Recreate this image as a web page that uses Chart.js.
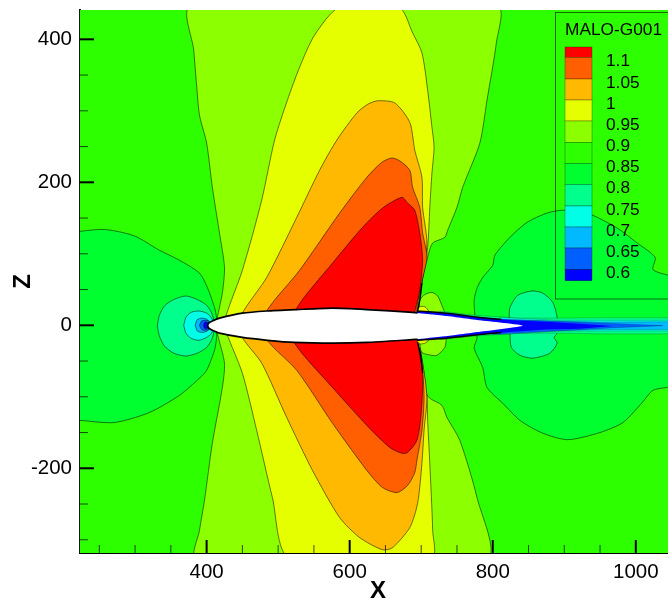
<!DOCTYPE html>
<html>
<head>
<meta charset="utf-8">
<style>
  html, body { margin: 0; padding: 0; background: #fff; }
  canvas { display: block; }
</style>
<script src="https://cdn.jsdelivr.net/npm/chart.js@4/dist/chart.umd.min.js"></script>
</head>
<body>
<canvas id="contourChart" width="668" height="605"></canvas>
<script>
// Ejes
const xTicks = [400, 600, 800, 1000];
const zTicks = [-200, 0, 200, 400];
const xMinor = [250, 300, 350, 450, 500, 550, 650, 700, 750, 850, 900, 950];
const zMinor = [-300, -250, -150, -100, -50, 50, 100, 150, 250, 300, 350];

// Leyenda
const legendTitle = 'MALO-G001';
const levels = ['1.1', '1.05', '1', '0.95', '0.9', '0.85', '0.8', '0.75', '0.7', '0.65', '0.6'];
const bandColors = ['#FF0000', '#FF5F00', '#FFB900', '#E6FF00', '#8CFF00', '#2EFF00',
                    '#00FF2E', '#00FF8C', '#00FFE6', '#00B9FF', '#005FFF', '#0000FF'];

// Isolineas, pares [X, Z]
const upper090 = [[415,0],[415,10],[422,45],[425,81],[418,129],[408,193],[400,255],[390,294],[386,336],[382,385],[377,445],
  [807,445],[805,395],[792,315],[782,255],[758,193],[750,165],[737,133],[733,123],[716,115],[709,95],[702,67],[695,25],[695,0]];
const upper095 = [[427,0],[427,13],[450,77],[477,175],[495,259],[513,315],[530,361],[551,406],[586,445],
  [669,445],[688,409],[701,381],[709,329],[715,277],[718,249],[715,213],[712,165],[709,109],[702,67],[698,35],[695,21],[695,0]];
const upper100 = [[450,0],[450,17],[484,67],[526,151],[558,217],[582,259],[610,297],[625,309],[639,314],[663,311],[684,284],
  [691,245],[701,207],[702,165],[708,115],[701,59],[695,25],[695,0]];
const upper105 = [[484,0],[484,20],[530,77],[586,157],[624,207],[645,228],[659,234],[670,230],[684,217],[688,193],[698,165],
  [702,129],[708,95],[698,49],[694,24],[694,0]];
const upper110 = [[526,0],[526,24],[576,87],[618,137],[646,164],[673,179],[681,171],[691,161],[698,129],[702,91],[698,49],[691,18],[691,0]];

const lower090 = [[415,0],[415,-11],[425,-53],[422,-87],[408,-165],[397,-245],[390,-287],[385,-325],
  [792,-325],[778,-241],[754,-161],[736,-129],[729,-112],[712,-102],[705,-91],[701,-53],[698,-25],[698,0]];
const lower095 = [[427,0],[428,-11],[450,-67],[470,-147],[492,-241],[515,-325],
  [715,-325],[716,-287],[712,-193],[709,-133],[708,-101],[702,-53],[698,-25],[698,0]];
const lower100 = [[450,0],[450,-17],[477,-53],[512,-129],[548,-203],[586,-269],[614,-297],[646,-314],[660,-311],[684,-283],
  [695,-249],[701,-193],[704,-147],[708,-101],[702,-53],[695,-24],[695,0]];
const lower105 = [[485,0],[485,-21],[526,-63],[576,-137],[624,-203],[646,-227],[666,-234],[681,-224],[691,-206],[694,-189],
  [701,-147],[704,-101],[701,-53],[694,-21],[694,0]];
const lower110 = [[523,0],[523,-25],[576,-87],[624,-140],[656,-171],[673,-179],[681,-178],[694,-161],[700,-123],[702,-67],[695,-24],[695,0]];

// Burbujas detras del choque
const bubbleUp = [[697,0],[697,18],[698,35],[705,43],[715,46],[723,41],[730,25],[733,17],[733,0]];
const bubbleDown = [[697,0],[698,-24],[701,-38],[715,-42],[722,-42],[733,-31],[735,-18],[735,0]];
const spotUp = [[694,0],[694,20],[698,26],[705,26],[710,20],[710,0]];
const spotDown = [[694,0],[694,-21],[698,-26],[705,-25],[710,-21],[710,0]];

// Borde de ataque
const nose085 = [[210,130],[257,134],[299,125],[334,105],[362,91],[390,73],[401,53],[411,25],[414,10],[414,0],[414,-17],[411,-35],
  [400,-63],[390,-74],[362,-98],[320,-122],[271,-136],[222,-133],[210,-133]];
const nose080 = [[331,-1],[334,14],[341,27],[354,36],[371,41],[387,36],[400,28],[408,15],[411,-1],[408,-18],[400,-31],[387,-39],
  [371,-43],[354,-39],[341,-29],[334,-15]];
const nose075 = [[368,0],[371,11],[378,18],[389,20],[400,17],[407,10],[410,0],[407,-11],[400,-17],[389,-21],[378,-18],[371,-11]];
const nose070 = [[384,0],[387,8],[394,10],[401,8],[406,0],[401,-8],[394,-10],[387,-8]];
const nose065 = [[390,0],[393,6],[397,7],[403,6],[406,0],[403,-6],[397,-7],[393,-6]];
const nose060 = [[396,0],[397,4],[401,4],[406,0],[401,-4],[397,-4]];

// Zona de estela
const aft085 = [[775,14],[774,35],[778,52],[786,67],[800,84],[803,98],[824,123],[848,144],[876,157],[898,161],[932,157],[974,136],
  [1002,115],[1027,95],[1024,78],[1045,70],[1060,66],[1060,-87],[1045,-87],[1024,-91],[1009,-108],[982,-136],[950,-150],[905,-160],
  [870,-151],[838,-133],[814,-109],[792,-87],[786,-59],[774,-32],[778,-18]];
const aft080 = [[823,14],[824,25],[835,42],[855,48],[870,45],[884,32],[890,11],[890,-11],[886,-17],[890,-25],[880,-39],[856,-46],
  [838,-42],[826,-31],[824,-11]];
const wake080 = [[726,20],[775,14],[838,10],[894,10],[950,10.5],[1060,10.5],[1060,-12],[950,-12],[894,-11],[838,-11],[775,-15],[726,-20]];
const wake075 = [[810,11],[890,7],[1060,7],[1060,-8],[890,-8],[810,-13]];
const wake070 = [[838,7],[950,4.5],[1060,5],[1060,-6],[950,-6],[838,-9]];
const wake065 = [[800,9],[968,2.5],[1038,-0.5],[968,-3.5],[800,-13]];
const wake060 = [[694,20],[736,17],[782,11],[828,7],[876,5],[922,2],[968,-1],[922,-5],[876,-6],[828,-9],[782,-13],[736,-18],[694,-21]];

// Perfil
const airfoil = [[401.5,0],[403,3],[408,6],[418,10],[450,17],[484,20],[526,22],[576,24],[624,22],[688,18],[736,13],[782,7],[842,-0.5],
  [782,-9],[736,-15],[688,-20],[624,-24],[576,-25],[523,-24],[485,-21],[450,-17],[418,-11],[408,-7],[403,-4]];
const airfoilEdge = [[695,17.5],[688,18],[624,22],[576,24],[526,22],[484,20],[450,17],[418,10],[408,6],[403,3],[401.5,0],[403,-4],[408,-7],
  [418,-11],[450,-17],[485,-21],[523,-24],[576,-25],[624,-24],[688,-20],[695,-19.5]];

// Lineas negras donde se juntan las isolineas
const shockUp = [[695,20],[698,35],[701,59]];
const shockDown = [[695,-24],[699,-40],[702,-67]];
const wakeEdgeUp = [[694,20],[736,17],[782,11],[812,8]];
const wakeEdgeDown = [[694,-21],[736,-18],[782,-13],[812,-10]];

const polygon = (points, color, extra) => ({
  data: points.concat([points[0]]).map(p => ({ x: p[0], y: p[1] })),
  showLine: true,
  fill: 'shape',
  backgroundColor: color,
  borderColor: 'rgba(0,0,0,0.75)',
  borderWidth: 0.7,
  pointRadius: 0,
  tension: 0.25,
  ...extra
});

const polyline = (points, width) => ({
  data: points.map(p => ({ x: p[0], y: p[1] })),
  showLine: true,
  fill: false,
  borderColor: '#000',
  borderWidth: width,
  pointRadius: 0,
  tension: 0.2
});

const faint = { borderColor: 'rgba(0,0,0,0.3)', tension: 0 };

// De abajo hacia arriba, como se pinta
const layers = [
  polygon(upper090, bandColors[4]), polygon(lower090, bandColors[4]),
  polygon(upper095, bandColors[3]), polygon(lower095, bandColors[3]),
  polygon(upper100, bandColors[2]), polygon(lower100, bandColors[2]),
  polygon(upper105, bandColors[1]), polygon(lower105, bandColors[1]),
  polygon(upper110, bandColors[0]), polygon(lower110, bandColors[0]),
  polygon(bubbleUp, bandColors[4]), polygon(bubbleDown, bandColors[4]),
  polygon(spotUp, bandColors[3]), polygon(spotDown, bandColors[3]),
  polygon(nose085, bandColors[6]), polygon(nose080, bandColors[7]), polygon(nose075, bandColors[8]),
  polygon(nose070, bandColors[9]), polygon(nose065, bandColors[10]), polygon(nose060, bandColors[11]),
  polygon(aft085, bandColors[6]), polygon(aft080, bandColors[7]),
  polygon(wake080, bandColors[7], faint),
  polygon(wake075, bandColors[8], faint),
  polygon(wake070, bandColors[9], faint),
  polygon(wake065, bandColors[10], faint),
  polygon(wake060, bandColors[11], { borderWidth: 0, tension: 0 }),
  polygon(airfoil, '#FFFFFF', { borderWidth: 0, tension: 0.15 }),
  polyline(airfoilEdge, 1.7),
  polyline(shockUp, 1.4), polyline(shockDown, 1.4),
  polyline(wakeEdgeUp, 1.5), polyline(wakeEdgeDown, 1.5)
];
layers.forEach((d, i) => { d.order = layers.length - i; });

// Fondo, marcas hacia adentro y leyenda
const contourPlugin = {
  id: 'contourPlugin',
  beforeDatasetsDraw(chart) {
    const { ctx, chartArea: a } = chart;
    ctx.save();
    ctx.fillStyle = bandColors[5];
    ctx.fillRect(a.left, a.top, a.right - a.left, a.bottom - a.top);
    ctx.restore();
  },
  afterDraw(chart) {
    const { ctx, chartArea: a, scales } = chart;
    ctx.save();
    ctx.strokeStyle = '#000';

    const tick = (px, py, dx, dy, w) => {
      ctx.lineWidth = w;
      ctx.beginPath();
      ctx.moveTo(px, py);
      ctx.lineTo(px + dx, py + dy);
      ctx.stroke();
    };
    xTicks.forEach(v => tick(scales.x.getPixelForValue(v), a.bottom, 0, -13, 2));
    zTicks.forEach(v => tick(a.left, scales.y.getPixelForValue(v), 14, 0, 2));
    ctx.strokeStyle = 'rgba(0,0,0,0.7)';
    xMinor.forEach(v => tick(scales.x.getPixelForValue(v), a.bottom, 0, -8, 1));
    zMinor.forEach(v => tick(a.left, scales.y.getPixelForValue(v), 8, 0, 1));

    // Caja de la leyenda (sin relleno, se ven las isolineas debajo)
    ctx.lineWidth = 0.8;
    ctx.strokeStyle = 'rgba(0,0,0,0.7)';
    ctx.strokeRect(555.5, 12.5, 130, 286.5);

    ctx.fillStyle = '#000';
    ctx.font = '17.3px "Liberation Sans"';
    ctx.textAlign = 'left';
    ctx.textBaseline = 'alphabetic';
    ctx.fillText(legendTitle, 565, 35);

    const bandTop = [47, 57.3, 79, 100, 121, 142.3, 163.3, 184.3, 206, 227, 248, 269.3, 280.7];
    bandColors.forEach((color, i) => {
      ctx.fillStyle = color;
      ctx.fillRect(565, bandTop[i], 27, bandTop[i + 1] - bandTop[i]);
      ctx.strokeStyle = 'rgba(0,0,0,0.45)';
      ctx.lineWidth = 0.6;
      ctx.strokeRect(565, bandTop[i], 27, bandTop[i + 1] - bandTop[i]);
    });

    ctx.fillStyle = '#000';
    ctx.textBaseline = 'middle';
    levels.forEach((label, i) => ctx.fillText(label, 606, bandTop[i + 1] + 4));

    // Titulo del eje X, algo corrido a la derecha del centro
    ctx.font = 'bold 24px "Liberation Sans"';
    ctx.textAlign = 'center';
    ctx.fillText('X', 378, 591);
    ctx.restore();
  }
};

const tickFont = { family: '"Liberation Sans"', size: 20.5 };
const titleFont = { family: '"Liberation Sans"', size: 24, weight: 'bold' };

new Chart(document.getElementById('contourChart').getContext('2d'), {
  type: 'scatter',
  data: { datasets: layers },
  plugins: [contourPlugin],
  options: {
    responsive: false,
    animation: false,
    events: [],
    layout: { padding: { top: 10, right: 0, left: 0, bottom: 0 } },
    plugins: { legend: { display: false }, tooltip: { enabled: false } },
    scales: {
      x: {
        type: 'linear',
        min: 223,
        max: 1045,
        afterBuildTicks: axis => { axis.ticks = xTicks.map(v => ({ value: v })); },
        afterFit: axis => { axis.height = 52; axis.paddingLeft = 0; axis.paddingRight = 0; },
        grid: { display: false, drawTicks: false },
        border: { display: true, color: '#000', width: 2 },
        ticks: { color: '#000', font: tickFont, padding: 7, maxRotation: 0, autoSkip: false, callback: v => String(v) }
      },
      y: {
        type: 'linear',
        min: -318.5,
        max: 441,
        afterBuildTicks: axis => { axis.ticks = zTicks.map(v => ({ value: v })); },
        afterFit: axis => { axis.width = 80; axis.paddingTop = 0; axis.paddingBottom = 0; },
        grid: { display: false, drawTicks: false },
        border: { display: true, color: '#111', width: 2 },
        ticks: { color: '#000', font: tickFont, padding: 8, autoSkip: false, callback: v => String(v) },
        title: { display: true, text: 'Z', color: '#000', font: titleFont, padding: { top: 9, bottom: 0 } }
      }
    }
  }
});
</script>
</body>
</html>
